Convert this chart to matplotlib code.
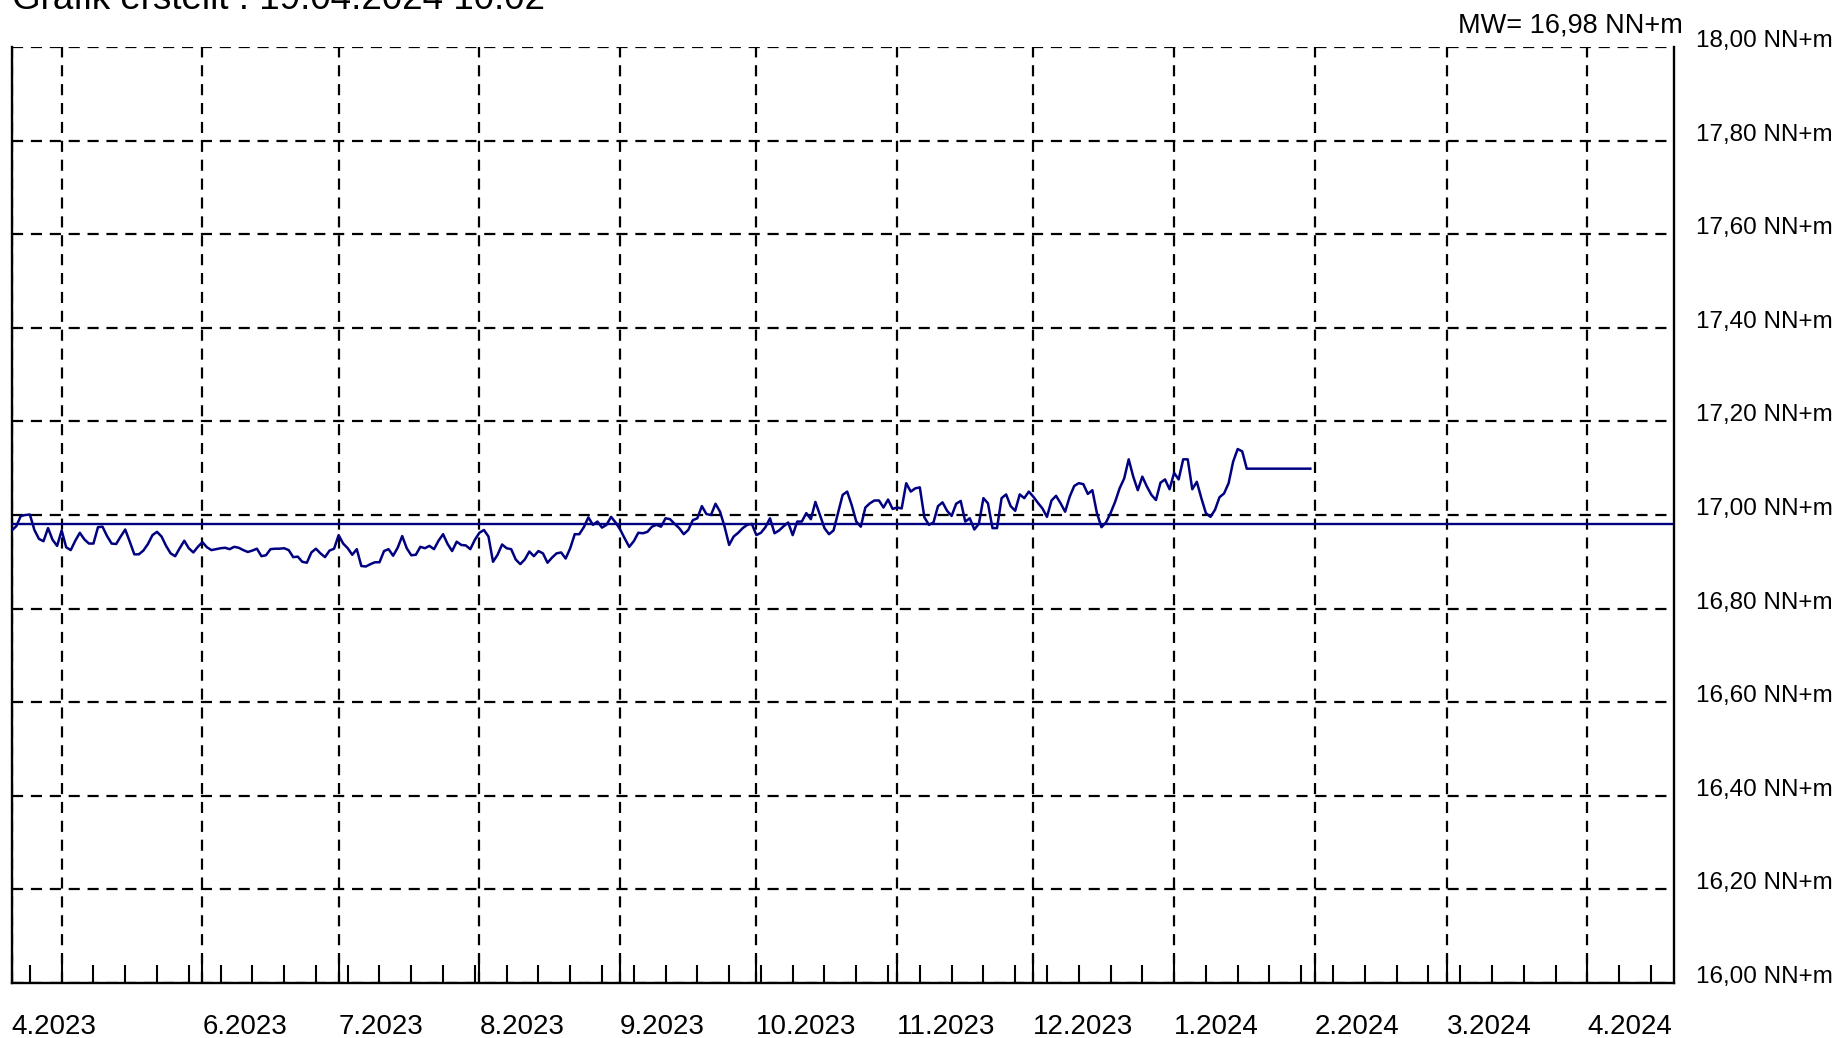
import matplotlib
matplotlib.use('Agg')
import matplotlib.pyplot as plt
import matplotlib.dates as mdates
import numpy as np
import pandas as pd
from datetime import datetime

plt.rcParams['font.family'] = ['Liberation Sans', 'DejaVu Sans']

# daily water levels (NN+m), starting 20.04.2023
level_apr_jul = [16.967, 16.976, 16.998, 17.000, 17.001, 16.968, 16.949, 16.944, 16.972, 16.947,
                 16.934, 16.967, 16.931, 16.925, 16.945, 16.962, 16.948, 16.939, 16.939, 16.974,
                 16.975, 16.955, 16.939, 16.938, 16.954, 16.969, 16.943, 16.916, 16.916, 16.924,
                 16.938, 16.957, 16.964, 16.954, 16.934, 16.918, 16.912, 16.929, 16.945, 16.929,
                 16.920, 16.932, 16.942, 16.931, 16.925, 16.927, 16.929, 16.930, 16.927, 16.932,
                 16.930, 16.925, 16.921, 16.924, 16.928, 16.912, 16.914, 16.927, 16.928, 16.928,
                 16.929, 16.925, 16.910, 16.911, 16.900, 16.898, 16.920, 16.928, 16.918, 16.910,
                 16.924, 16.928, 16.957, 16.939]
level_jul_sep = [16.929, 16.915, 16.927, 16.891, 16.890, 16.895, 16.899, 16.899, 16.923, 16.927,
                 16.913, 16.930, 16.955, 16.929, 16.914, 16.915, 16.932, 16.929, 16.934, 16.927,
                 16.945, 16.959, 16.938, 16.923, 16.943, 16.936, 16.935, 16.927, 16.947, 16.962,
                 16.968, 16.954, 16.900, 16.915, 16.937, 16.929, 16.927, 16.905, 16.895, 16.905,
                 16.922, 16.912, 16.923, 16.918, 16.898, 16.909, 16.918, 16.920, 16.907, 16.929,
                 16.959, 16.959, 16.974, 16.995, 16.979, 16.986, 16.973, 16.979, 16.996, 16.984,
                 16.969, 16.950, 16.932, 16.944, 16.962, 16.961, 16.964, 16.975, 16.979, 16.975,
                 16.993, 16.991, 16.981]
level_sep_dec = [16.972, 16.959, 16.968, 16.989, 16.993, 17.019, 17.002, 17.000, 17.024, 17.007,
                 16.975, 16.936, 16.954, 16.962, 16.972, 16.979, 16.981, 16.957, 16.962, 16.974,
                 16.993, 16.961, 16.967, 16.976, 16.984, 16.957, 16.986, 16.986, 17.004, 16.991,
                 17.028, 17.000, 16.972, 16.959, 16.967, 17.005, 17.043, 17.050, 17.021, 16.986,
                 16.975, 17.016, 17.025, 17.031, 17.031, 17.016, 17.033, 17.013, 17.016, 17.014,
                 17.068, 17.050, 17.057, 17.059, 16.995, 16.979, 16.984, 17.019, 17.027, 17.009,
                 16.998, 17.024, 17.030, 16.986, 16.993, 16.969, 16.981, 17.036, 17.025, 16.972,
                 16.972, 17.036, 17.044]
level_dec_jan = [17.019, 17.009, 17.044, 17.036, 17.050, 17.039, 17.026, 17.014, 16.996, 17.031,
                 17.041, 17.025, 17.007, 17.039, 17.062, 17.068, 17.066, 17.045, 17.053, 17.004,
                 16.974, 16.984, 17.004, 17.028, 17.057, 17.078, 17.119, 17.082, 17.053, 17.082,
                 17.061, 17.043, 17.032, 17.069, 17.076, 17.055, 17.090, 17.076, 17.119, 17.119,
                 17.055, 17.071, 17.036, 17.004, 16.996, 17.011, 17.038, 17.046, 17.068, 17.114,
                 17.141, 17.136, 17.099]
level_jan_tail = [17.099, 17.099, 17.099, 17.099, 17.099, 17.099, 17.099,
                  17.099, 17.099, 17.099, 17.099, 17.099, 17.099, 17.099]

levels = level_apr_jul + level_jul_sep + level_sep_dec + level_dec_jan + level_jan_tail
dates = pd.date_range('2023-04-20', periods=len(levels), freq='D')

mean_level = 16.98
y_ticks = np.round(np.arange(16.0, 18.01, 0.2), 2)
y_labels = [f'{v:.2f}'.replace('.', ',') + ' NN+m' for v in y_ticks]

x_start = datetime(2023, 4, 20)
x_end = datetime(2024, 4, 20)
month_starts = list(pd.date_range('2023-05-01', '2024-04-01', freq='MS'))
month_labels = [f'{d.month}.{d.year}' for d in month_starts]
month_labels[0] = ''  # no label for 5.2023

title = 'Grafik erstellt : 19.04.2024 10:02'

fig = plt.figure(figsize=(18.41, 10.38), dpi=100)
ax = fig.add_axes([0.00636, 0.0530, 0.9027, 0.9017])

ax.plot(dates, levels, color='#000080', linewidth=1.8, zorder=3)
ax.axhline(mean_level, color='#000080', linewidth=1.7, zorder=3)

ax.set_xlim(x_start, x_end)
ax.set_ylim(16.0, 18.0)

ax.set_xticks([x_start] + month_starts, ['4.2023'] + month_labels)
ax.xaxis.set_minor_locator(mdates.WeekdayLocator(byweekday=mdates.MO))
ax.tick_params(axis='x', which='major', direction='in', length=20, width=1.5,
               pad=22, labelsize=20, colors='black')
ax.tick_params(axis='x', which='minor', direction='in', length=13, width=1.5)
plt.setp(ax.get_xticklabels(), ha='left')

ax.yaxis.tick_right()
ax.set_yticks(y_ticks, y_labels)
ax.tick_params(axis='y', length=0, pad=16, labelsize=17.5)
plt.setp(ax.get_yticklabels(), va='baseline')

ax.grid(True, which='major', color='black', linestyle=(0, (5, 3.5)), linewidth=1.6)

ax.spines['top'].set_visible(False)
for side in ['left', 'right', 'bottom']:
    ax.spines[side].set_linewidth(1.7)
    ax.spines[side].set_color('black')

ax.annotate(f'MW= {mean_level:.2f} NN+m'.replace('.', ','), xy=(1.0, 1.0),
            xycoords='axes fraction', xytext=(9, 15), textcoords='offset pixels',
            ha='right', va='baseline', fontsize=19.5)

fig.text(12 / 1841, 1 - 9 / 1038, title, ha='left', va='baseline', fontsize=26.5)

fig.savefig('out.png', dpi=100)
